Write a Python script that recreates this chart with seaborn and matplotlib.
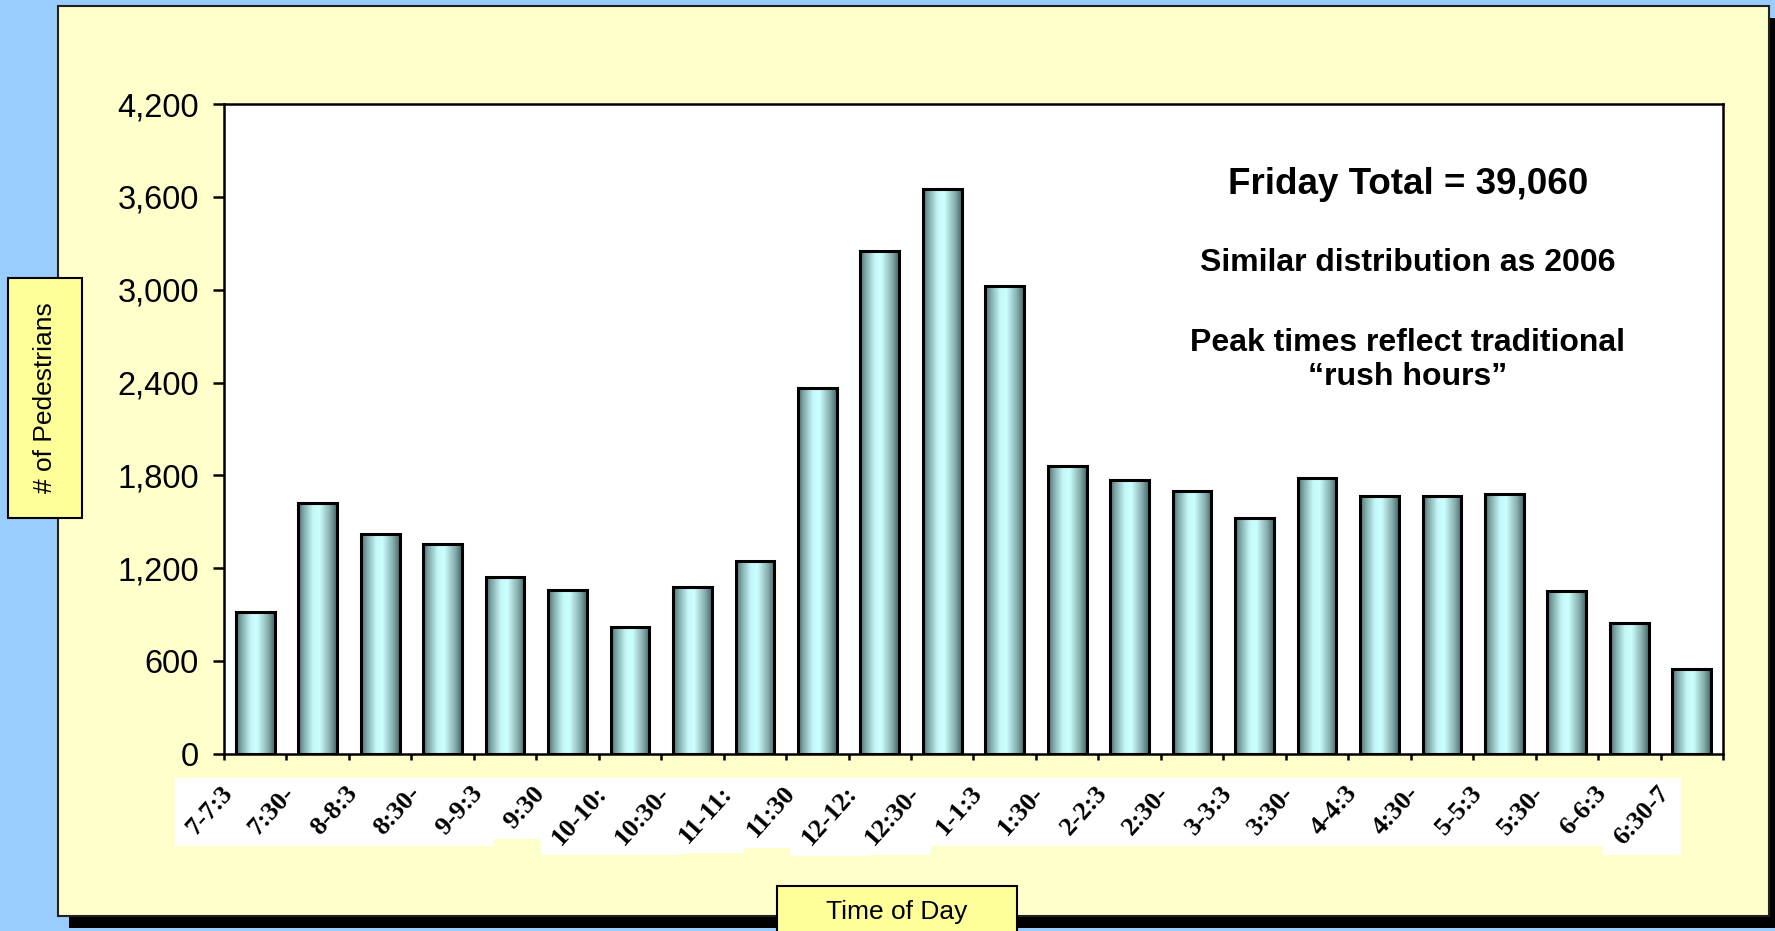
import numpy as np
import pandas as pd
import matplotlib
matplotlib.use("Agg")
import matplotlib.pyplot as plt
import seaborn as sns
from matplotlib.patches import Rectangle
from matplotlib.colors import LinearSegmentedColormap
from matplotlib.transforms import ScaledTranslation, IdentityTransform
from matplotlib.ticker import FuncFormatter, FixedLocator

# Half-hour counting periods on Friday
time_slots = ["7-7:30", "7:30-8", "8-8:30", "8:30-9", "9-9:30", "9:30-10",
              "10-10:30", "10:30-11", "11-11:30", "11:30-12", "12-12:30", "12:30-1",
              "1-1:30", "1:30-2", "2-2:30", "2:30-3", "3-3:30", "3:30-4",
              "4-4:30", "4:30-5", "5-5:30", "5:30-6", "6-6:30", "6:30-7"]
# Labels as they are printed under the axis (clipped by the label boxes)
tick_labels = ["7-7:3", "7:30-", "8-8:3", "8:30-", "9-9:3", "9:30",
               "10-10:", "10:30-", "11-11:", "11:30", "12-12:", "12:30-",
               "1-1:3", "1:30-", "2-2:3", "2:30-", "3-3:3", "3:30-",
               "4-4:3", "4:30-", "5-5:3", "5:30-", "6-6:3", "6:30-7"]
pedestrians = [920, 1620, 1420, 1355, 1145, 1060,
               820, 1080, 1250, 2365, 3250, 3650,
               3025, 1860, 1770, 1700, 1525, 1785,
               1665, 1665, 1680, 1055, 845, 550]
y_ticks = [0, 600, 1200, 1800, 2400, 3000, 3600, 4200]

notes_title = "Friday Total = 39,060"
notes_line1 = "Similar distribution as 2006"
notes_line2 = "Peak times reflect traditional\n\u201crush hours\u201d"

df = pd.DataFrame({"slot": time_slots, "count": pedestrians})

sns.set_style("white")
plt.rcParams["font.family"] = ["Liberation Sans", "DejaVu Sans"]
plt.rcParams["text.color"] = "black"
plt.rcParams["axes.labelcolor"] = "black"
plt.rcParams["xtick.color"] = "black"
plt.rcParams["ytick.color"] = "black"

W, H = 1775, 931
fig = plt.figure(figsize=(W / 100, H / 100), dpi=100)
fig.patch.set_facecolor("#99CCFF")

# Slide-style frame with a drop shadow
fig.add_artist(Rectangle((69 / W, 1 - 928 / H), (W - 69) / W + 0.01, 910 / H,
                         transform=fig.transFigure, facecolor="black",
                         edgecolor="none", zorder=-3))
fig.add_artist(Rectangle((58 / W, 1 - 916 / H), 1711 / W, 910 / H,
                         transform=fig.transFigure, facecolor="#FFFFCC",
                         edgecolor="#222222", linewidth=1.5, zorder=-2))

ax = fig.add_axes([224 / W, 1 - 754 / H, 1499 / W, 650 / H])
ax.set_facecolor("white")

sns.barplot(data=df, x="slot", y="count", color="#CCFFFF", width=0.62,
            saturation=1, edgecolor="black", linewidth=2.2, ax=ax)

# Cylinder-like horizontal shading inside every bar
shade = LinearSegmentedColormap.from_list(
    "cyl", [(0.0, "#456868"), (0.12, "#7aa0a0"), (0.38, "#c4f7f7"),
            (0.55, "#ccffff"), (0.82, "#88aeae"), (1.0, "#456767")])
grad = np.linspace(0, 1, 256)[np.newaxis, :]
for bar in list(ax.patches):
    x0, w, h = bar.get_x(), bar.get_width(), bar.get_height()
    im = ax.imshow(grad, extent=(x0, x0 + w, 0, h), aspect="auto",
                   cmap=shade, interpolation="bilinear", zorder=1.5)
    im.set_clip_path(bar)
    bar.set_facecolor("none")
    bar.set_zorder(2)

ax.set_xlim(-0.5, len(time_slots) - 0.5)
ax.set_ylim(0, 4200)
ax.set_yticks(y_ticks)
ax.yaxis.set_major_formatter(FuncFormatter(lambda v, p: f"{v:,.0f}"))
ax.tick_params(axis="y", labelsize=23.5, length=8, width=1.8, pad=10,
               colors="black", left=True)

ax.set_xticks(range(len(time_slots)))
ax.set_xticklabels(tick_labels, rotation=48, ha="right",
                   fontsize=19, fontweight="bold", family="Liberation Serif")
ax.tick_params(axis="x", which="major", length=0, pad=20)
ax.xaxis.set_minor_locator(FixedLocator(np.arange(-0.5, len(time_slots), 1)))
ax.tick_params(axis="x", which="minor", length=4, width=1.8, bottom=True,
               direction="out")
shift = ScaledTranslation(-18 / 100, 0, fig.dpi_scale_trans)
for lab in ax.get_xticklabels():
    lab.set_transform(lab.get_transform() + shift)

for side in ["left", "right", "top", "bottom"]:
    ax.spines[side].set_visible(True)
    ax.spines[side].set_color("black")
    ax.spines[side].set_linewidth(1.8)

# Axis titles in yellow boxes
ax.set_ylabel("# of Pedestrians", fontsize=19, color="black")
ax.yaxis.set_label_coords((45 - 224) / 1499, (754 - 398) / 650)
ax.yaxis.label.set_verticalalignment("center")
ax.set_xlabel("Time of Day", fontsize=19, color="black")
ax.xaxis.set_label_coords((897 - 224) / 1499, (754 - 912) / 650)
ax.xaxis.label.set_verticalalignment("center")
fig.add_artist(Rectangle((8 / W, 1 - 518 / H), 74 / W, 240 / H,
                         transform=fig.transFigure, facecolor="#FFFF99",
                         edgecolor="black", linewidth=1.5, zorder=-0.5))
fig.add_artist(Rectangle((777 / W, 1 - 950 / H), 240 / W, 64 / H,
                         transform=fig.transFigure, facecolor="#FFFF99",
                         edgecolor="black", linewidth=1.5, zorder=-0.5))

# Notes inside the plot area
ax.text((1408 - 224) / 1499, (754 - 184) / 650, notes_title, transform=ax.transAxes,
        ha="center", va="center", fontsize=26.5, fontweight="bold")
ax.text((1408 - 224) / 1499, (754 - 263) / 650, notes_line1, transform=ax.transAxes,
        ha="center", va="center", fontsize=23, fontweight="bold")
ax.text((1408 - 224) / 1499, (754 - 360) / 650, notes_line2, transform=ax.transAxes,
        ha="center", va="center", fontsize=23, fontweight="bold", linespacing=1.2)

# White boxes behind the time labels
fig.canvas.draw()
renderer = fig.canvas.get_renderer()
for lab in ax.get_xticklabels():
    bb = lab.get_window_extent(renderer)
    fig.add_artist(Rectangle((bb.x0 - 7, bb.y0 - 6), bb.width + 14, bb.height + 10,
                             transform=IdentityTransform(), facecolor="white",
                             edgecolor="none", zorder=-1))

fig.savefig("out.png", dpi=100, facecolor=fig.get_facecolor())
